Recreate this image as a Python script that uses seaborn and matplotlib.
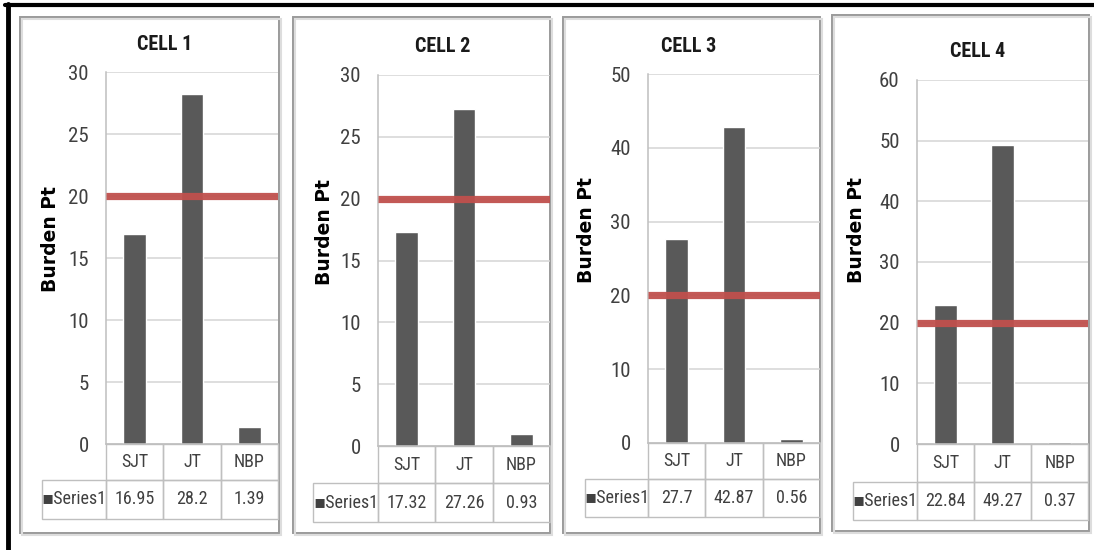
import matplotlib
matplotlib.use("Agg")
import matplotlib.pyplot as plt
import seaborn as sns
from matplotlib import font_manager as fm
from matplotlib.table import Table
from matplotlib.patches import Rectangle
from matplotlib.lines import Line2D

# ---------------- data ----------------
categories = ["SJT", "JT", "NBP"]
cell_titles = ["CELL 1", "CELL 2", "CELL 3", "CELL 4"]
cell1 = [16.95, 28.2, 1.39]
cell2 = [17.32, 27.26, 0.93]
cell3 = [27.7, 42.87, 0.56]
cell4 = [22.84, 49.27, 0.37]
threshold = 20
y_max = [30, 30, 50, 60]
y_step = [5, 5, 10, 10]
series_name = "Series1"
y_label = "Burden Pt"

cells = [cell1, cell2, cell3, cell4]

# ---------------- style ----------------
sns.set_style("white")
names = {f.name for f in fm.fontManager.ttflist}
cond = next((n for n in ["Liberation Sans Narrow", "Roboto Condensed",
                         "Open Sans Condensed", "Liberation Sans"] if n in names),
            "DejaVu Sans")
plt.rcParams["font.family"] = [cond, "DejaVu Sans"]

BAR = "#595959"
RED = "#C0504D"
GRID = "#D4D4D4"
TXT = "#404040"
EDGE = "#BFBFBF"

W, H = 1094, 550
fig = plt.figure(figsize=(W / 100, H / 100), dpi=100)
fig.patch.set_facecolor("white")


def frac(x0, y0, x1, y1):
    return [x0 / W, 1 - y1 / H, (x1 - x0) / W, (y1 - y0) / H]


# layout (pixels)
panels = [(20, 17, 279, 533), (293, 17, 550, 533), (563, 17, 820, 533), (832, 15, 1089, 531)]
axes_px = [(106, 72, 278, 444), (378, 75, 550, 446), (648, 74, 820, 443), (917, 80, 1088, 444)]
table_px = [(42, 480, 519), (313, 483, 522), (585, 479, 517), (853, 482, 520)]
titles_px = [(165, 45), (443, 47), (689, 47), (978, 52)]
ylabel_px = [(51, 239), (324, 232), (586, 230), (856, 230)]

# outer black frame (top and left)
fig.add_artist(Line2D([5 / W, 1.0], [1 - 5 / H, 1 - 5 / H], transform=fig.transFigure,
                      color="black", lw=3))
fig.add_artist(Line2D([7.5 / W, 7.5 / W], [0, 1 - 3.5 / H], transform=fig.transFigure,
                      color="black", lw=3.5))

for i in range(4):
    px0, py0, px1, py1 = panels[i]
    # shadow + border
    fig.add_artist(Rectangle(((px0 + 2) / W, 1 - (py1 + 2) / H), (px1 - px0) / W, (py1 - py0) / H,
                             transform=fig.transFigure, fill=False, edgecolor="#DDDDDD", lw=1.5))
    fig.add_artist(Rectangle((px0 / W, 1 - py1 / H), (px1 - px0) / W, (py1 - py0) / H,
                             transform=fig.transFigure, facecolor="white", edgecolor="#9A9A9A",
                             lw=1.4, zorder=0))

    ax0, ay0, ax1, ay1 = axes_px[i]
    ax = fig.add_axes(frac(ax0, ay0, ax1, ay1))
    ax.set_facecolor("none")
    sns.barplot(x=categories, y=cells[i], ax=ax, color=BAR, saturation=1, width=0.4,
                zorder=2)
    ax.axhline(threshold, color=RED, lw=5.2, alpha=0.95, zorder=3, solid_capstyle="butt")
    ax.set_xlim(-0.5, 2.5)
    ax.set_ylim(0, y_max[i])
    ax.set_yticks(range(0, y_max[i] + 1, y_step[i]))
    ax.tick_params(axis="y", length=0, pad=12.5, labelsize=15, labelcolor=TXT)
    ax.set_xticks([])
    ax.set_xlabel("")
    ax.set_ylabel("")
    ax.yaxis.grid(True, color=GRID, lw=1.1)
    ax.set_axisbelow(True)
    for s in ["top", "right"]:
        ax.spines[s].set_visible(False)
    ax.spines["left"].set_color(EDGE)
    ax.spines["bottom"].set_color(EDGE)
    ax.spines["left"].set_linewidth(1.1)
    ax.spines["bottom"].set_linewidth(1.1)

    # data table under the plot
    tl, tmid, tb = table_px[i]
    aw = ax1 - ax0
    ah = ay1 - ay0
    bbox = [(tl - ax0) / aw, -(tb - ay1) / ah, (ax1 - tl) / aw, (tb - ay1) / ah]
    tbl = Table(ax, bbox=bbox)
    lab_w = ax0 - tl
    col_w = aw / 3
    hdr_h = tmid - ay1
    row_h = tb - tmid
    for j, c in enumerate(categories):
        cell = tbl.add_cell(0, j + 1, col_w, hdr_h, text=c, loc="center",
                            edgecolor=EDGE, facecolor="none")
        cell.get_text().set_color(TXT)
    cell = tbl.add_cell(1, 0, lab_w, row_h, text="\u25AA" + series_name, loc="center",
                        edgecolor=EDGE, facecolor="none")
    cell.get_text().set_color(TXT)
    for j, v in enumerate(cells[i]):
        cell = tbl.add_cell(1, j + 1, col_w, row_h, text=f"{v:g}", loc="center",
                            edgecolor=EDGE, facecolor="none")
        cell.get_text().set_color(TXT)
    tbl.auto_set_font_size(False)
    tbl.set_fontsize(13)
    for cell in tbl.get_celld().values():
        cell.set_linewidth(1.0)
    ax.add_table(tbl)

    # title and y label
    tx, ty = titles_px[i]
    fig.text(tx / W, 1 - ty / H, cell_titles[i], ha="center", va="center",
             fontsize=14.5, fontweight="bold", color="#1a1a1a")
    lx, ly = ylabel_px[i]
    fig.text(lx / W, 1 - ly / H, y_label, rotation=90, ha="center", va="center",
             fontsize=13.5, fontweight="bold", color="black",
             family=["DejaVu Sans"])

fig.savefig("out.png", dpi=100, facecolor="white")
